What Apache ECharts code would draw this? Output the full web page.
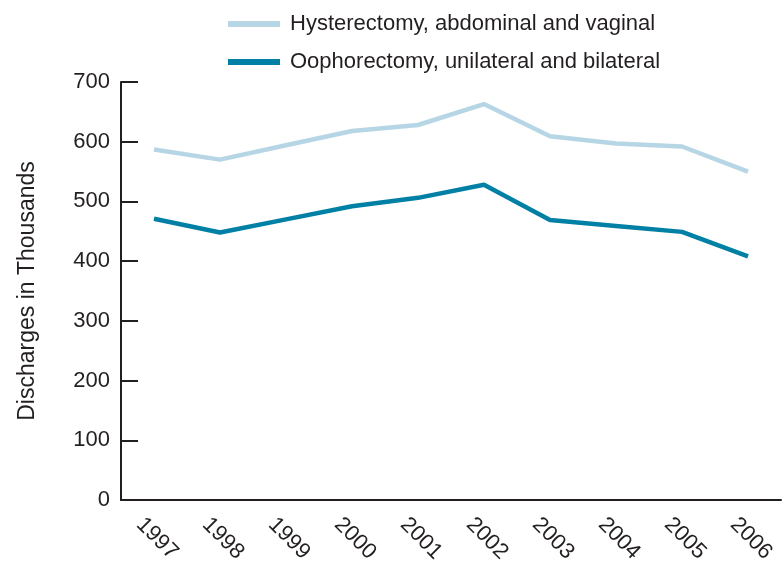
<!DOCTYPE html>
<html>
<head>
<meta charset="utf-8">
<script src="https://cdn.jsdelivr.net/npm/echarts@6/dist/echarts.min.js"></script>
<style>
  html, body { margin: 0; padding: 0; background: #fff; }
  #chart { width: 784px; height: 564px; }
</style>
</head>
<body>
<div id="chart"></div>
<script>
// 数据
var years = ['1997', '1998', '1999', '2000', '2001', '2002', '2003', '2004', '2005', '2006'];
var hysterectomy = [587, 570, 594, 618, 628, 663, 609, 597, 592, 550];
var oophorectomy = [471, 448, 470, 492, 506, 528, 469, 459, 449, 408];
var yTicks = [0, 100, 200, 300, 400, 500, 600, 700];

var myChart = echarts.init(document.getElementById('chart'));

var font = 'Liberation Sans, Arial, sans-serif';
var axisColor = '#231f20';

var option = {
    animation: false,
    legend: {
        orient: 'vertical',
        left: 223,
        top: 8,
        itemWidth: 52,
        itemHeight: 6,
        itemGap: 16,
        icon: 'rect',
        textStyle: { fontFamily: font, fontSize: 22, color: '#231f20', padding: [0, 0, 0, 5], lineHeight: 22 },
        data: ['Hysterectomy, abdominal and vaginal', 'Oophorectomy, unilateral and bilateral']
    },
    grid: { left: 121, right: 3, top: 82, bottom: 64, containLabel: false, outerBoundsMode: 'none' },
    xAxis: {
        type: 'category',
        data: years,
        boundaryGap: true,
        axisLine: { lineStyle: { color: axisColor, width: 2 } },
        axisTick: { inside: true, length: 10, lineStyle: { color: axisColor, width: 2 } },
        axisLabel: {
            interval: 0, rotate: -45, fontFamily: font, fontSize: 22, color: '#231f20',
            margin: 7, lineHeight: 40, verticalAlign: 'middle',
            formatter: function (v) { return '\n' + v; }
        }
    },
    yAxis: {
        type: 'value',
        min: 0,
        max: 700,
        interval: 100,
        name: 'Discharges in Thousands',
        nameLocation: 'middle',
        nameGap: 82,
        nameTextStyle: { fontFamily: font, fontSize: 23, color: '#231f20' },
        splitLine: { show: false },
        axisLine: { show: true, lineStyle: { color: axisColor, width: 2 } },
        axisTick: { show: true, inside: true, length: 17, lineStyle: { color: axisColor, width: 2 } },
        axisLabel: {
            fontFamily: font, fontSize: 22, color: '#231f20', margin: 11,
            formatter: function (v) { return yTicks.indexOf(v) >= 0 ? String(v) : ''; }
        }
    },
    series: [
        {
            name: 'Hysterectomy, abdominal and vaginal',
            type: 'line',
            data: hysterectomy,
            symbol: 'none',
            color: '#b6d6e6',
            lineStyle: { width: 4.5, color: '#b6d6e6' }
        },
        {
            name: 'Oophorectomy, unilateral and bilateral',
            type: 'line',
            data: oophorectomy,
            symbol: 'none',
            color: '#0080a4',
            lineStyle: { width: 4.5, color: '#0080a4' }
        }
    ]
};

myChart.setOption(option);
</script>
</body>
</html>
